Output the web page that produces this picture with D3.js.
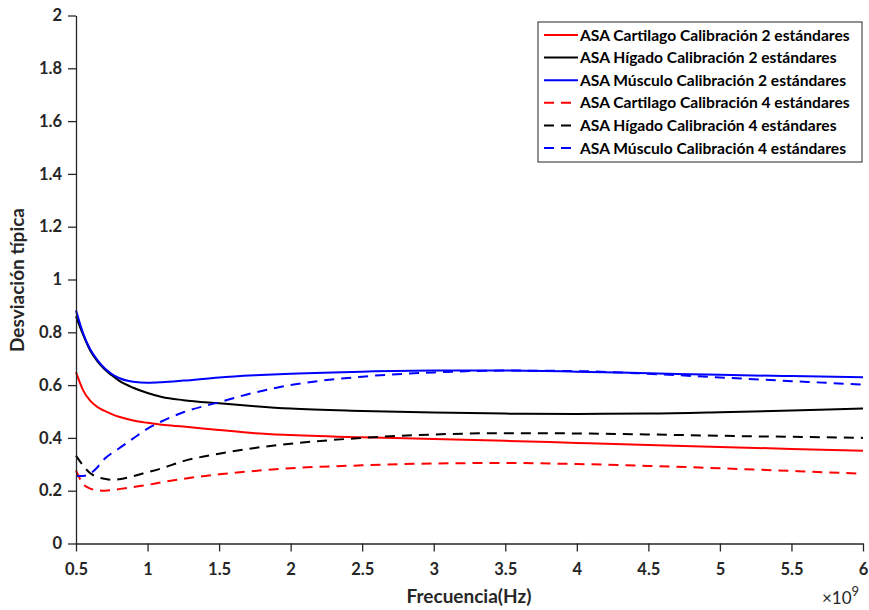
<!DOCTYPE html>
<html><head><meta charset="utf-8">
<script src="https://cdn.jsdelivr.net/npm/d3@7"></script>
<style>
body{margin:0;background:#fff;}
text{font-family:Lato,"Open Sans",sans-serif;}
</style></head>
<body><svg id="c" width="869" height="610"></svg>
<script>
const freq = [0.5,0.55,0.6,0.65,0.7,0.75,0.8,0.9,1.0,1.1,1.25,1.5,1.75,2,2.5,3,3.5,4,4.5,5,5.5,6];
const cart2 = [0.649,0.58,0.54,0.517,0.502,0.49,0.48,0.466,0.457,0.45,0.443,0.43,0.418,0.411,0.402,0.396,0.389,0.381,0.373,0.366,0.358,0.351];
const higa2 = [0.86,0.79,0.73,0.69,0.66,0.637,0.617,0.59,0.57,0.555,0.543,0.531,0.52,0.511,0.502,0.496,0.492,0.491,0.492,0.497,0.504,0.511];
const musc2 = [0.883,0.796,0.735,0.695,0.664,0.642,0.627,0.613,0.609,0.611,0.617,0.629,0.637,0.643,0.651,0.655,0.655,0.651,0.645,0.639,0.634,0.63];
const cart4 = [0.277,0.225,0.208,0.202,0.2,0.202,0.206,0.214,0.222,0.232,0.245,0.262,0.275,0.285,0.296,0.303,0.305,0.301,0.294,0.285,0.275,0.264];
const higa4 = [0.333,0.295,0.266,0.252,0.245,0.241,0.243,0.255,0.27,0.285,0.312,0.34,0.362,0.378,0.4,0.413,0.418,0.417,0.413,0.408,0.404,0.4];
const musc4 = [0.256,0.256,0.265,0.289,0.321,0.342,0.36,0.398,0.435,0.463,0.497,0.535,0.572,0.6,0.632,0.648,0.655,0.653,0.643,0.629,0.615,0.602];
const seriesNames = ["ASA Cartilago Calibración 2 estándares","ASA Hígado Calibración 2 estándares","ASA Músculo Calibración 2 estándares","ASA Cartilago Calibración 4 estándares","ASA Hígado Calibración 4 estándares","ASA Músculo Calibración 4 estándares"];
const seriesValues = [cart2,higa2,musc2,cart4,higa4,musc4];
const seriesColors = ["#ff0000","#000000","#0000ff","#ff0000","#000000","#0000ff"];
const seriesDashed = [false,false,false,true,true,true];
const xTicks = [0.5,1,1.5,2,2.5,3,3.5,4,4.5,5,5.5,6];
const yTicks = [0,0.2,0.4,0.6,0.8,1,1.2,1.4,1.6,1.8,2];

const svg = d3.select("#c");
const L=76, R=863, T=15.5, B=543.5;
const x = d3.scaleLinear().domain([0.5,6]).range([L,R]);
const y = d3.scaleLinear().domain([0,2]).range([B,T]);
const axCol="#262626";

const line = d3.line().x((d,i)=>x(freq[i])).y(d=>y(d)).curve(d3.curveMonotoneX);
const g = svg.append("g");
seriesValues.forEach((vals,k)=>{
  g.append("path").attr("d",line(vals)).attr("fill","none")
   .attr("stroke",seriesColors[k]).attr("stroke-width",2)
   .attr("stroke-dasharray",seriesDashed[k]?"10,7":null);
});

const xa = svg.append("g").attr("transform",`translate(0,${B})`)
  .call(d3.axisBottom(x).tickValues(xTicks).tickSize(8).tickSizeOuter(0).tickFormat(d=>d3.format("")(d)));
const ya = svg.append("g").attr("transform",`translate(${L},0)`)
  .call(d3.axisLeft(y).tickValues(yTicks).tickSize(8).tickSizeOuter(0).tickFormat(d=>d3.format("")(d)));
[xa,ya].forEach(a=>{
  a.select(".domain").attr("stroke",axCol).attr("stroke-width",1.3);
  a.selectAll(".tick line").attr("stroke",axCol).attr("stroke-width",1.3);
  a.selectAll(".tick text").attr("fill",axCol).style("font-size","16.5px").style("font-weight","bold").style("font-family","Lato");
});
xa.selectAll(".tick text").attr("dy",null).attr("y",31.5);
ya.selectAll(".tick text").attr("x",-14);

svg.append("text").attr("x",469).attr("y",603).attr("text-anchor","middle")
  .style("font-size","19px").style("font-weight","bold").attr("fill",axCol).text("Frecuencia(Hz)");
svg.append("text").attr("transform","translate(24,280) rotate(-90)").attr("text-anchor","middle")
  .style("font-size","19px").style("font-weight","bold").attr("fill",axCol).text("Desviación típica");
const mult = svg.append("text").attr("x",822).attr("y",604).style("font-size","17px").attr("fill",axCol);
mult.append("tspan").text("×10");
mult.append("tspan").attr("dy",-8).style("font-size","13px").text("9");

// legend
const lg = svg.append("g");
lg.append("rect").attr("x",538).attr("y",22).attr("width",324).attr("height",140)
  .attr("fill","#fff").attr("stroke",axCol).attr("stroke-width",1);
seriesNames.forEach((n,k)=>{
  const yy = 35 + k*22.6;
  lg.append("line").attr("x1",544).attr("x2",578).attr("y1",yy).attr("y2",yy)
    .attr("stroke",seriesColors[k]).attr("stroke-width",2)
    .attr("stroke-dasharray",seriesDashed[k]?"10,7":null);
  lg.append("text").attr("x",580).attr("y",yy).attr("dy","0.36em")
    .style("font-size","15.6px").style("font-weight","bold").attr("fill","#000").text(n);
});
</script></body></html>
